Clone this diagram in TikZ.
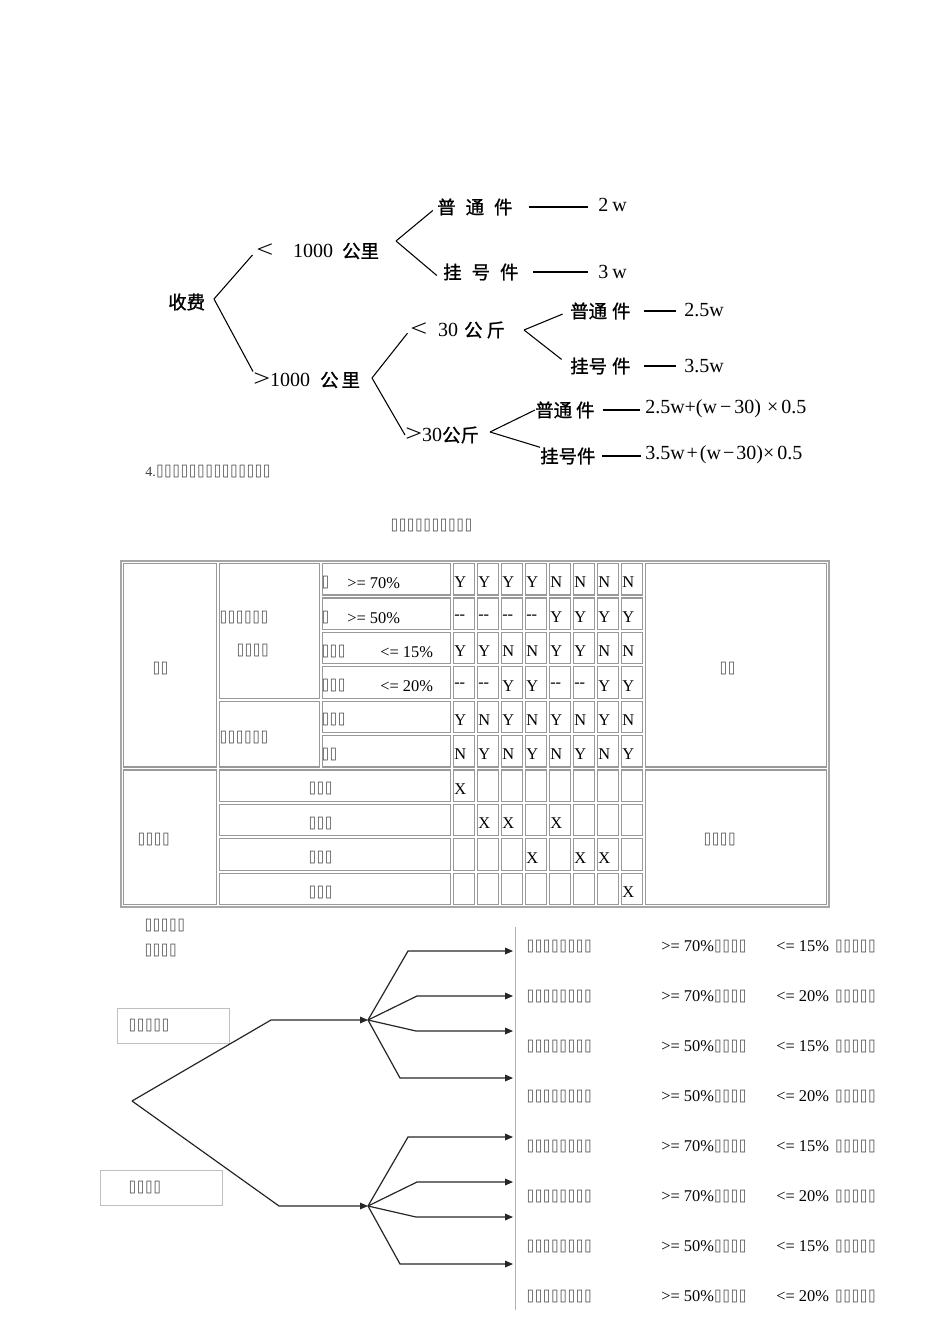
\documentclass[tikz,border=0pt]{standalone}
\usepackage{fontspec}
\setmainfont{Liberation Serif}
\newfontfamily\cjk[Scale=0.92,FakeBold=1.2]{Noto Sans CJK SC}
\newfontfamily\tofu{DejaVu Sans Mono}
\usetikzlibrary{arrows.meta}
\newdimen\pxu \pxu=0.75pt
\newcommand\tofus[1]{{\color{black!70}\tofu\fontsize{10.25}{11}\selectfont #1}}
\newcommand\dd{-{}-}
\newcommand\lt{\scalebox{1.5}[1.2]{<}}
\newcommand\gt{\scalebox{1.5}[1.2]{>}}
\newcommand\cellbox[4]{\draw[cell] (#1+1.5,#2+1.5) rectangle (#3-1.5,#4-1.5);}

\tikzset{
  scan/.style={inner sep=0pt, anchor=west, font=\fontsize{15}{16}\selectfont},
  fork/.style={line width=0.8pt},
  tf/.style={inner sep=0pt, anchor=west, text=black!70, font=\tofu\fontsize{10.25}{11}\selectfont},
  tx/.style={inner sep=0pt, anchor=west, font=\fontsize{12.3}{13}\selectfont},
  cell/.style={draw=black!40, line width=0.9pt},
  lbl/.style={draw=black!25, line width=0.6pt, anchor=west, text=black!70,
    font=\tofu\fontsize{10.25}{11}\selectfont},
  tree/.style={line width=0.9pt, black!85},
  tip/.style={-{Triangle[length=6pt,width=5pt]}},
}

\begin{document}
\begin{tikzpicture}[x=0.75pt,y=-0.75pt]
  \useasboundingbox (0,0) rectangle (950,1344);

  % fee tree
  \node[scan] (sf) at (168,302) {\cjk 收费};
  \node[scan] (a1) at (256,251) {\lt\hspace{20\pxu}1000\hspace{9\pxu}{\cjk 公里}};
  \node[scan] (b1) at (253,380) {\gt1000\hspace{10\pxu}{\cjk 公\hspace{3\pxu}里}};
  \node[scan] (c1) at (437,207) {\cjk 普\hspace{10\pxu}通\hspace{10\pxu}件};
  \node[scan] (c2) at (443,272) {\cjk 挂\hspace{10\pxu}号\hspace{10\pxu}件};
  \node[scan] (v1) at (598,205) {2\hspace{4\pxu}w};
  \node[scan] (v2) at (598,272) {3\hspace{4\pxu}w};
  \node[scan] (d1) at (410,330) {\lt\hspace{11\pxu}30\hspace{6\pxu}{\cjk 公\hspace{4\pxu}斤}};
  \node[scan] (d2) at (405,435) {\gt30{\cjk 公斤}};
  \node[scan] (e1) at (570,311) {\cjk 普通\hspace{5\pxu}件};
  \node[scan] (e2) at (570,366) {\cjk 挂号\hspace{5\pxu}件};
  \node[scan] (w1) at (684,310) {2.5w};
  \node[scan] (w2) at (684,366) {3.5w};
  \node[scan] (f1) at (535,410) {\cjk 普通\hspace{4\pxu}件};
  \node[scan] (f2) at (540,456) {\cjk 挂号件};
  \node[scan] (g1) at (645,409) {2.5w+(w\hspace{3\pxu}−\hspace{3\pxu}30)\hspace{6\pxu}×\hspace{3\pxu}0.5};
  \node[scan] (g2) at (645,455) {3.5w\hspace{2\pxu}+\hspace{2\pxu}(w\hspace{2\pxu}−\hspace{2\pxu}30)×\hspace{3\pxu}0.5};

  \coordinate (k1) at (214,299);
  \coordinate (k2) at (396,241);
  \coordinate (k3) at (372,378);
  \coordinate (k4) at (524,330);
  \coordinate (k5) at (490,432);
  \draw[fork,shorten >=4pt] (k1) -- (a1.west);
  \draw[fork] (k1) -- (b1.north west);
  \draw[fork,shorten >=4pt] (k2) -- (c1.west);
  \draw[fork,shorten >=6pt] (k2) -- (c2.south west);
  \draw[fork,shorten >=3pt] (k3) -- (d1.west);
  \draw[fork] (k3) -- (d2.west);
  \draw[fork,shorten >=6pt] (k4) -- (e1.west);
  \draw[fork,shorten >=8pt] (k4) -- (e2.west);
  \draw[fork] (k5) -- (f1.west);
  \draw[fork] (k5) -- (f2.north west);

  \draw[fork,shorten <=12pt,shorten >=7.5pt] (c1.east) -- (c1.east -| v1.west);
  \draw[fork,shorten <=11pt,shorten >=7.5pt] (c2.east) -- (c2.east -| v2.west);
  \draw[fork,shorten <=10pt,shorten >=6pt] (e1.east) -- (e1.east -| w1.west);
  \draw[fork,shorten <=10pt,shorten >=6pt] (e2.east) -- (e2.east -| w2.west);
  \draw[fork,shorten <=6pt,shorten >=4pt] (f1.east) -- (f1.east -| g1.west);
  \draw[fork,shorten <=5pt,shorten >=3pt] (f2.east) -- (f2.east -| g2.west);

  \node[tx, text=black!75, font=\fontsize{10.5}{11}\selectfont] (cap) at (145,472) {4.\tofus{⌷⌷⌷⌷⌷⌷⌷⌷⌷⌷⌷⌷⌷⌷}};
  \node[tf] (ttl) at (390,526) {⌷⌷⌷⌷⌷⌷⌷⌷⌷⌷};

  % decision table
  \draw[black!35, line width=0.9pt] (121,561) rectangle (829,907);
  \cellbox{122}{562}{218}{768.4}
  \cellbox{122}{768.4}{218}{906}
  \cellbox{218}{562}{321}{699.6}
  \cellbox{218}{699.6}{321}{768.4}
  \foreach \j in {0,...,5}{\cellbox{321}{562+34.4*\j}{452}{596.4+34.4*\j}}
  \foreach \j in {6,...,9}{\cellbox{218}{562+34.4*\j}{452}{596.4+34.4*\j}}
  \foreach \i in {0,...,7}{\foreach \j in {0,...,9}{\cellbox{452+24*\i}{562+34.4*\j}{476+24*\i}{596.4+34.4*\j}}}
  \cellbox{644}{562}{828}{768.4}
  \cellbox{644}{768.4}{828}{906}

  \node[tf] (ca) at (152,669) {⌷⌷};
  \node[tf] (cb) at (137,840) {⌷⌷⌷⌷};
  \node[tf] (cc) at (219,618) {⌷⌷⌷⌷⌷⌷};
  \node[tf] (cd) at (236,651) {⌷⌷⌷⌷};
  \node[tf] (ce) at (219,738) {⌷⌷⌷⌷⌷⌷};
  \node[tf] (cf) at (719,669) {⌷⌷};
  \node[tf] (cg) at (703,840) {⌷⌷⌷⌷};
  \node[tf] (t1) at (321,583) {⌷};
  \node[tx] (u1) at (347,583) {>= 70\%};
  \node[tf] (t2) at (321,618) {⌷};
  \node[tx] (u2) at (347,618) {>= 50\%};
  \node[tf] (t3) at (321,652) {⌷⌷⌷};
  \node[tx] (u3) at (380,652) {<= 15\%};
  \node[tf] (t4) at (321,686) {⌷⌷⌷};
  \node[tx] (u4) at (380,686) {<= 20\%};
  \node[tf] (t5) at (321,720) {⌷⌷⌷};
  \node[tf] (t6) at (321,755) {⌷⌷};
  \foreach \j in {0,...,3}{\node[tf] (act\j) at (308,788.9+34.4*\j) {⌷⌷⌷};}

  \foreach \row [count=\j from 0] in {{Y,Y,Y,Y,N,N,N,N},{\dd,\dd,\dd,\dd,Y,Y,Y,Y},
      {Y,Y,N,N,Y,Y,N,N},{\dd,\dd,Y,Y,\dd,\dd,Y,Y},{Y,N,Y,N,Y,N,Y,N},{N,Y,N,Y,N,Y,N,Y}}{
    \foreach \v [count=\i from 0] in \row {\node[tx] (d-\j-\i) at (454+24*\i,582.5+34.4*\j) {\v};}}
  \foreach \cols [count=\j from 0] in {{0},{1,2,4},{3,5,6},{7}}{
    \foreach \i in \cols {\node[tx] (x-\j-\i) at (454+24*\i,788.9+34.4*\j) {X};}}

  % decision tree
  \node[tf] (n1) at (144,926) {⌷⌷⌷⌷⌷};
  \node[tf] (n2) at (144,951) {⌷⌷⌷⌷};
  \node[lbl, minimum height=26.25pt, inner xsep=8.25pt, text width=67.5pt] (grpA) at (117,1025.5) {⌷⌷⌷⌷⌷};
  \node[lbl, minimum height=26.25pt, inner xsep=21pt, text width=49.5pt] (grpB) at (100,1187.5) {⌷⌷⌷⌷};

  \coordinate (root) at (132,1101);
  \coordinate (hA) at (368,1020);
  \coordinate (hB) at (368,1206);
  \draw[tree,tip] (root) -- (271,1020) -- (hA);
  \draw[tree,tip] (root) -- (279,1206) -- (hB);
  \foreach \h in {hA,hB}{
    \foreach \dx/\dy in {40/-69,49/-24,48/11,32/58}{
      \draw[tree,tip] (\h) -- ++(\dx,\dy) -- ++({145-\dx},0);}}
  \draw[black!30, line width=0.6pt] (515,927) -- (515,1310);

  \foreach \a/\b [count=\k from 0] in {70/15,70/20,50/15,50/20,70/15,70/20,50/15,50/20}{
    \node[tf] (r\k-a) at (526,947+49.9*\k) {⌷⌷⌷⌷⌷⌷⌷⌷};
    \node[tx] (r\k-b) at (661,947+49.9*\k) {>= \a\%\tofus{⌷⌷⌷⌷}};
    \node[tx] (r\k-c) at (776,947+49.9*\k) {<= \b\%\hspace{6\pxu}\tofus{⌷⌷⌷⌷⌷}};}
\end{tikzpicture}
\end{document}
